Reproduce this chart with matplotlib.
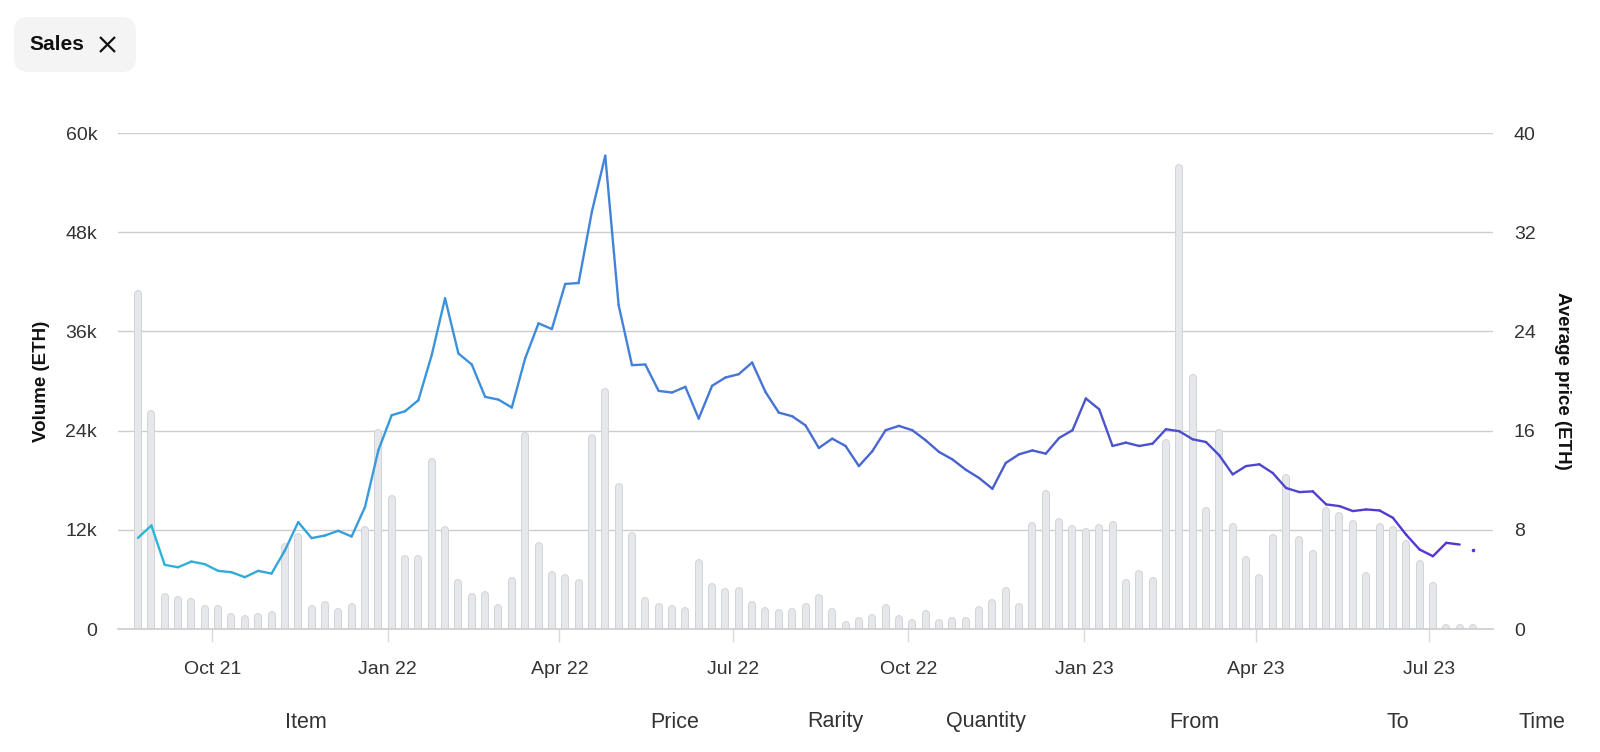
import numpy as np
import pandas as pd
import matplotlib
matplotlib.use("Agg")
import matplotlib.pyplot as plt
import matplotlib.dates as mdates
from matplotlib.collections import LineCollection
from matplotlib.colors import LinearSegmentedColormap
from matplotlib.patches import FancyBboxPatch
from matplotlib.lines import Line2D
from matplotlib.transforms import IdentityTransform

plt.rcParams['font.family'] = ['Liberation Sans', 'DejaVu Sans']

# weekly sales data
weeks = pd.date_range('2021-08-23', periods=101, freq='7D')

volume_k = [41.0, 26.5, 4.4, 4.0, 3.8, 2.9, 2.9, 1.9, 1.7, 1.9,
            2.2, 10.4, 11.6, 2.9, 3.4, 2.6, 3.1, 12.4, 24.2, 16.2,
            9.0, 9.0, 20.7, 12.4, 6.1, 4.4, 4.6, 3.0, 6.3, 23.8,
            10.5, 7.0, 6.6, 6.0, 23.6, 29.2, 17.7, 11.7, 3.9, 3.2,
            2.9, 2.7, 8.5, 5.6, 4.9, 5.1, 3.4, 2.7, 2.4, 2.5,
            3.2, 4.2, 2.5, 1.0, 1.5, 1.8, 3.0, 1.7, 1.2, 2.3,
            1.2, 1.4, 1.5, 2.8, 3.6, 5.1, 3.2, 12.9, 16.8, 13.4,
            12.6, 12.2, 12.7, 13.1, 6.0, 7.1, 6.3, 23.0, 56.3, 30.9,
            14.7, 24.2, 12.8, 8.8, 6.6, 11.5, 18.8, 11.3, 9.6, 14.7,
            14.2, 13.2, 6.9, 12.8, 12.4, 10.8, 8.3, 5.7, 0.5, 0.3,
            0.15]

avg_price = [7.35, 8.35, 5.17, 4.98, 5.44, 5.23, 4.69, 4.58, 4.18, 4.69,
             4.47, 6.33, 8.62, 7.33, 7.54, 7.92, 7.46, 9.83, 14.4, 17.24,
             17.56, 18.45, 22.09, 26.67, 22.22, 21.33, 18.72, 18.5, 17.86, 21.82,
             24.65, 24.19, 27.83, 27.9, 33.67, 38.17, 26.13, 21.28, 21.33, 19.2,
             19.07, 19.53, 16.97, 19.61, 20.28, 20.55, 21.49, 19.12, 17.45, 17.16,
             16.42, 14.6, 15.35, 14.76, 13.14, 14.33, 16.03, 16.38, 16.03, 15.22,
             14.28, 13.68, 12.85, 12.18, 11.31, 13.39, 14.09, 14.4, 14.14, 15.41,
             16.03, 18.59, 17.72, 14.76, 15.03, 14.76, 14.95, 16.11, 15.95, 15.3,
             15.08, 14.0, 12.47, 13.14, 13.28, 12.58, 11.37, 11.04, 11.1, 10.05,
             9.91, 9.51, 9.64, 9.56, 8.97, 7.6, 6.41, 5.87, 6.95, 6.81,
             6.38]

vol_ticks = [0, 12, 24, 36, 48, 60]
vol_labels = ['0', '12k', '24k', '36k', '48k', '60k']
price_ticks = [0, 8, 16, 24, 32, 40]
month_ticks = pd.date_range('2021-10-01', '2023-07-01', freq='3MS')
column_names = ['Item', 'Price', 'Rarity', 'Quantity', 'From', 'To', 'Time']
column_x = [306, 675, 835, 986, 1194, 1398, 1542]

W, H = 1600, 752
fig = plt.figure(figsize=(W / 100, H / 100), dpi=100)
fig.patch.set_facecolor('white')

L, R, T, B = 118, 1493, 133, 629
ax = fig.add_axes([L / W, 1 - B / H, (R - L) / W, (B - T) / H])
ax2 = ax.twinx()

x = mdates.date2num(weeks)
ax.set_xlim(mdates.date2num(pd.Timestamp('2021-08-12 12:00')),
            mdates.date2num(pd.Timestamp('2023-08-03 12:00')))
ax.set_ylim(0, 60)
ax2.set_ylim(0, 40)

# bars as round-capped thick lines
bar_px = 8.0
cap = (bar_px / 2) * 60 / (B - T)
tops = np.maximum(np.array(volume_k) - cap, 0.08)
outer = ax.vlines(x, 0, tops, colors='#d2d5d8', linewidth=bar_px * 0.72, zorder=2)
inner = ax.vlines(x, 0, tops, colors='#e5e7ea', linewidth=(bar_px - 2.0) * 0.72, zorder=3)
for lc in (outer, inner):
    lc.set_capstyle('round')
ax.axhline(0, color='#cdcdcd', linewidth=1.2, zorder=4, clip_on=False)

# gradient price line
cmap = LinearSegmentedColormap.from_list(
    'line', ['#2cb6d8', '#3a97dc', '#447dd9', '#4a62cf', '#4c4ccc', '#5731d4'])
px = x[:-1]
py = np.array(avg_price[:-1])
pts = np.column_stack([px, py]).reshape(-1, 1, 2)
segs = np.concatenate([pts[:-1], pts[1:]], axis=1)
mid = (px[:-1] + px[1:]) / 2
lc = LineCollection(segs, colors=cmap((mid - x[0]) / (x[-1] - x[0])),
                    linewidth=1.7, capstyle='round', joinstyle='round', zorder=5)
ax2.add_collection(lc)
ax2.plot(x[-1:], avg_price[-1:], 'o', ms=2.6, color='#5731d4', mec='none', zorder=5)

# axes styling
for a in (ax, ax2):
    for s in a.spines.values():
        s.set_visible(False)
ax.set_axisbelow(True)
ax.set_yticks(vol_ticks)
ax.set_yticklabels(vol_labels)
ax.grid(axis='y', color='#cdcdcd', linewidth=1.0)
ax.grid(axis='x', visible=False)
ax.tick_params(axis='y', length=0, pad=15, labelsize=14, labelcolor='#333333')
ax.set_xticks(mdates.date2num(month_ticks))
ax.xaxis.set_major_formatter(mdates.DateFormatter('%b %y'))
ax.tick_params(axis='x', length=9, width=1, color='#dadada', pad=14,
               labelsize=14, labelcolor='#333333')
ax2.set_yticks(price_ticks)
ax2.tick_params(axis='y', length=0, pad=15, labelsize=14, labelcolor='#333333')

ax.set_ylabel('Volume (ETH)', fontsize=13.5, fontweight='bold', color='#111111')
ax.yaxis.set_label_coords((50 - L) / (R - L), 0.5)
ax2.set_ylabel('Average price (ETH)', fontsize=13.5, fontweight='bold',
               color='#111111', rotation=270, va='center')
ax2.yaxis.set_label_coords((1562 - L) / (R - L), 0.5)

# column headers under the chart
for name, cx in zip(column_names, column_x):
    fig.text(cx / W, 1 - 722 / H, name, ha='center', va='center',
             fontsize=15.5, color='#333333')

# "Sales" chip
chip = FancyBboxPatch((14, H - 72), 122, 55,
                      boxstyle='round,pad=0,rounding_size=14',
                      transform=IdentityTransform(), facecolor='#f4f4f4',
                      edgecolor='none')
fig.add_artist(chip)
fig.text(29 / W, 1 - 45 / H, 'Sales', ha='left', va='center',
         fontsize=15, fontweight='bold', color='#111111')
for (x0, y0, x1, y1) in [(100, 37, 115, 52), (100, 52, 115, 37)]:
    fig.add_artist(Line2D([x0, x1], [H - y0, H - y1], transform=IdentityTransform(),
                          color='#111111', linewidth=1.6, solid_capstyle='butt'))

fig.savefig('out.png', dpi=100)
